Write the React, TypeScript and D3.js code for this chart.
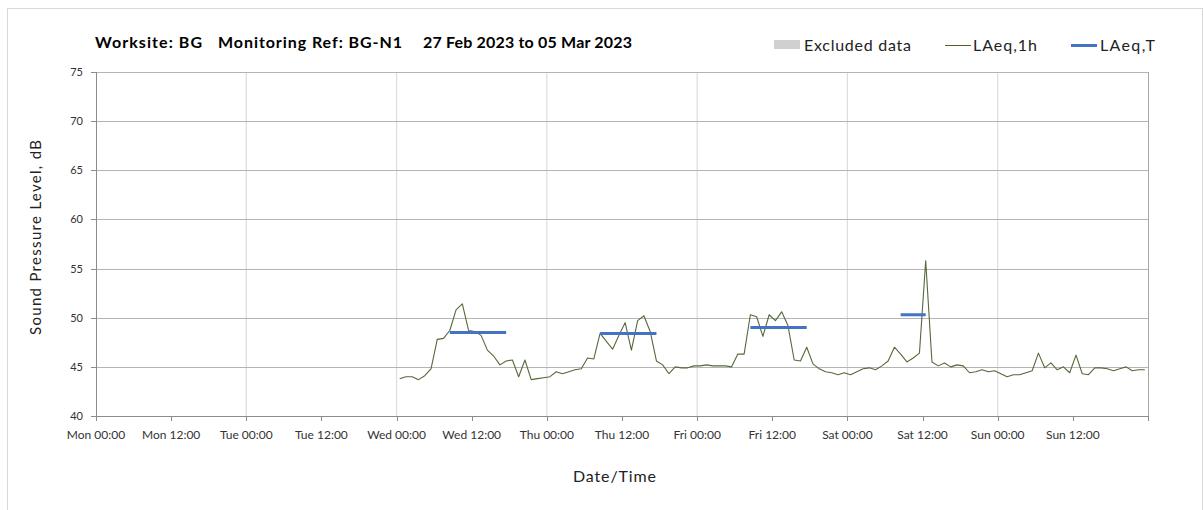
import React from "react";
import * as d3 from "d3";

// hourly LAeq,1h from Wed 01 Mar 2023 00:00 (one value per hour, plotted mid-hour)
const laeq1h = [
  43.8, 44.0, 44.0, 43.7, 44.1, 44.8, 47.8, 47.9, 48.7, 50.8, 51.4, 48.7,
  48.6, 48.2, 46.7, 46.1, 45.2, 45.6, 45.7, 44.0, 45.7, 43.7, 43.8, 43.9,
  44.0, 44.5, 44.3, 44.5, 44.7, 44.8, 45.9, 45.8, 48.4, 47.6, 46.8, 48.2,
  49.5, 46.7, 49.7, 50.2, 48.6, 45.6, 45.2, 44.3, 45.0, 44.9, 44.9, 45.1,
  45.1, 45.2, 45.1, 45.1, 45.1, 45.0, 46.3, 46.3, 50.3, 50.1, 48.1, 50.3,
  49.7, 50.6, 49.2, 45.7, 45.6, 47.0, 45.3, 44.8, 44.5, 44.4, 44.2, 44.4,
  44.2, 44.5, 44.8, 44.9, 44.7, 45.1, 45.6, 47.0, 46.3, 45.5, 45.9, 46.4,
  55.8, 45.5, 45.1, 45.4, 45.0, 45.2, 45.1, 44.4, 44.5, 44.7, 44.5, 44.6,
  44.3, 44.0, 44.2, 44.2, 44.4, 44.6, 46.4, 44.9, 45.4, 44.7, 45.0, 44.4,
  46.2, 44.3, 44.2, 44.9, 44.9, 44.8, 44.6, 44.8, 45.0, 44.6, 44.7, 44.7,
];

// LAeq,T periods (hour index into laeq1h) and levels
const periodStart = [8, 32, 56, 80];
const periodEnd = [17, 41, 65, 84];
const laeqT = [48.5, 48.4, 49.0, 50.3];

const yTicks = [40, 45, 50, 55, 60, 65, 70, 75];

const weekStart = new Date(2023, 1, 27, 0, 0);
const weekEnd = new Date(2023, 2, 6, 0, 0);
const dataStart = new Date(2023, 2, 1, 0, 0);

const FONT = "Lato, 'Open Sans', sans-serif";

const hourAt = (base: Date, h: number) => new Date(base.getTime() + h * 3600 * 1000);

export default function App() {
  const margin = { left: 96, right: 1148, top: 72, bottom: 416 };
  const x = d3.scaleTime().domain([weekStart, weekEnd]).range([margin.left, margin.right]);
  const y = d3.scaleLinear().domain([40, 75]).range([margin.bottom, margin.top]);

  const ticks12 = d3.timeHour.every(12)!.range(weekStart, weekEnd);
  const days = d3.timeDay.range(weekStart, weekEnd).concat([weekEnd]);
  const fmt = d3.timeFormat("%a %H:%M");

  const line = d3
    .line<number>()
    .x((_, i) => x(hourAt(dataStart, i + 0.5)))
    .y((d) => y(d));

  return (
    <svg
      width={1203}
      height={510}
      style={{ position: "absolute", left: 0, top: 0, background: "#fff" }}
      fontFamily={FONT}
    >
      <rect x={7.5} y={8.5} width={1195} height={510} fill="#fff" stroke="#d9d9d9" />

      {/* title */}
      <g fontWeight="bold" fontSize={16} fill="#000">
        <text x={95} y={48} textLength={107} lengthAdjust="spacing">Worksite: BG</text>
        <text x={218} y={48} textLength={184} lengthAdjust="spacing">Monitoring Ref: BG-N1</text>
        <text x={423} y={48} textLength={209} lengthAdjust="spacing">27 Feb 2023 to 05 Mar 2023</text>
      </g>

      {/* legend */}
      <g fontSize={16} fill="#222">
        <rect x={774} y={40} width={26} height={9} fill="#d0d0d0" />
        <text x={804} y={51} textLength={107} lengthAdjust="spacing">Excluded data</text>
        <line x1={945} x2={971} y1={45.5} y2={45.5} stroke="#4f6228" strokeWidth={1} />
        <text x={973} y={51} textLength={64} lengthAdjust="spacing">LAeq,1h</text>
        <line x1={1071} x2={1097} y1={45.5} y2={45.5} stroke="#4472c4" strokeWidth={3} />
        <text x={1100} y={51} textLength={55} lengthAdjust="spacing">LAeq,T</text>
      </g>

      {/* vertical day gridlines */}
      {days.slice(1, -1).map((d) => (
        <line key={+d} x1={x(d)} x2={x(d)} y1={margin.top} y2={margin.bottom} stroke="#dcdcdc" strokeWidth={1.2} />
      ))}
      <line x1={margin.right + 0.5} x2={margin.right + 0.5} y1={margin.top} y2={margin.bottom} stroke="#a6a6a6" />

      {/* horizontal gridlines + y ticks */}
      {yTicks.map((t) => (
        <g key={t}>
          {t > 40 && (
            <line x1={margin.left} x2={margin.right} y1={Math.round(y(t)) + 0.5} y2={Math.round(y(t)) + 0.5} stroke="#b4b4b4" />
          )}
          <line x1={margin.left - 5} x2={margin.left} y1={Math.round(y(t)) + 0.5} y2={Math.round(y(t)) + 0.5} stroke="#8c8c8c" />
          <text x={83} y={y(t) + 4} fontSize={11} textAnchor="end" fill="#333">{t}</text>
        </g>
      ))}

      {/* axes */}
      <line x1={margin.left + 0.5} x2={margin.left + 0.5} y1={margin.top} y2={margin.bottom + 5} stroke="#8c8c8c" />
      <line x1={margin.left} x2={margin.right} y1={margin.bottom + 0.5} y2={margin.bottom + 0.5} stroke="#8c8c8c" />
      {ticks12.map((t) => (
        <g key={+t}>
          <line x1={Math.round(x(t)) + 0.5} x2={Math.round(x(t)) + 0.5} y1={margin.bottom} y2={margin.bottom + 5} stroke="#8c8c8c" />
          <text x={x(t)} y={439} fontSize={12} textAnchor="middle" fill="#333">{fmt(t)}</text>
        </g>
      ))}
      <line x1={margin.right + 0.5} x2={margin.right + 0.5} y1={margin.bottom} y2={margin.bottom + 5} stroke="#8c8c8c" />

      {/* axis titles */}
      <text x={573} y={482} fontSize={16} fill="#222" textLength={83} lengthAdjust="spacing">Date/Time</text>
      <text transform={`translate(41, 335) rotate(-90)`} fontSize={15} fill="#222" textLength={195} lengthAdjust="spacing">
        Sound Pressure Level, dB
      </text>

      {/* LAeq,1h */}
      <path d={line(laeq1h) ?? ""} fill="none" stroke="#56693a" strokeWidth={1.1} strokeLinejoin="round" />

      {/* LAeq,T */}
      {laeqT.map((v, i) => (
        <line
          key={i}
          x1={x(hourAt(dataStart, periodStart[i] + 0.5))}
          x2={x(hourAt(dataStart, periodEnd[i] + 0.5))}
          y1={y(v)}
          y2={y(v)}
          stroke="#4472c4"
          strokeWidth={3}
        />
      ))}
    </svg>
  );
}
